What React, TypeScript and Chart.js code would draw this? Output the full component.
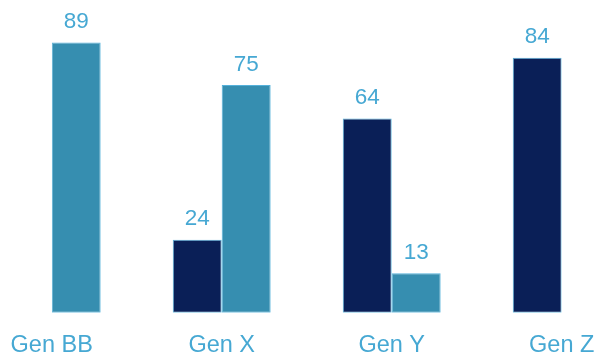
import React, { useEffect, useRef } from "react";
import { Chart, registerables } from "chart.js";

Chart.register(...registerables);

const categories = ["Gen BB", "Gen X", "Gen Y", "Gen Z"];
const seriesNavy: (number | null)[] = [null, 24, 64, 84];
const seriesTeal: (number | null)[] = [89, 75, 13, null];
const yMin = 0;
const yMax = 100;

const NAVY = "#0a1f57";
const TEAL = "#368eb0";
const BORDER = "#55b1da";
const TEXT = "#46a8d3";
const FONT = "'Liberation Sans', Arial, sans-serif";

const valueLabels = {
  id: "valueLabels",
  afterDatasetsDraw(chart: any) {
    const ctx = chart.ctx;
    ctx.save();
    ctx.fillStyle = TEXT;
    ctx.font = `22.5px ${FONT}`;
    ctx.textAlign = "center";
    ctx.textBaseline = "alphabetic";
    chart.data.datasets.forEach((ds: any, i: number) => {
      const meta = chart.getDatasetMeta(i);
      meta.data.forEach((bar: any, j: number) => {
        const v = ds.data[j];
        if (v === null || v === undefined) return;
        ctx.fillText(String(v), bar.x, bar.y - 14.5);
      });
    });
    ctx.restore();
  },
};

export default function App() {
  const ref = useRef<HTMLCanvasElement | null>(null);
  useEffect(() => {
    if (!ref.current) return;
    const chart = new Chart(ref.current, {
      type: "bar",
      data: {
        labels: categories,
        datasets: [
          {
            label: "Series 1",
            data: seriesNavy,
            backgroundColor: NAVY,
            borderColor: BORDER,
            borderWidth: 1,
            borderSkipped: false,
          },
          {
            label: "Series 2",
            data: seriesTeal,
            backgroundColor: TEAL,
            borderColor: BORDER,
            borderWidth: 1,
            borderSkipped: false,
          },
        ],
      },
      options: {
        animation: false,
        responsive: true,
        maintainAspectRatio: false,
        layout: { padding: { left: 51.7, right: 36.3, top: 9.2, bottom: 0 } },
        datasets: { bar: { categoryPercentage: 0.576, barPercentage: 1 } },
        plugins: { legend: { display: false }, tooltip: { enabled: false } },
        scales: {
          x: {
            offset: false,
            grid: { display: false, drawTicks: false },
            border: { display: false },
            ticks: {
              color: TEXT,
              padding: 19,
              font: { family: FONT, size: 23.5 },
              maxRotation: 0,
              autoSkip: false,
            },
            afterFit(scale: any) {
              scale.paddingLeft = 0;
              scale.paddingRight = 0;
              scale.height = 44.3;
            },
          },
          y: {
            display: false,
            min: yMin,
            max: yMax,
          },
        },
      },
      plugins: [valueLabels],
    });
    return () => chart.destroy();
  }, []);
  return (
    <div style={{ position: "fixed", left: 0, top: 0, width: 598, height: 357, background: "#fff" }}>
      <canvas ref={ref} />
    </div>
  );
}
